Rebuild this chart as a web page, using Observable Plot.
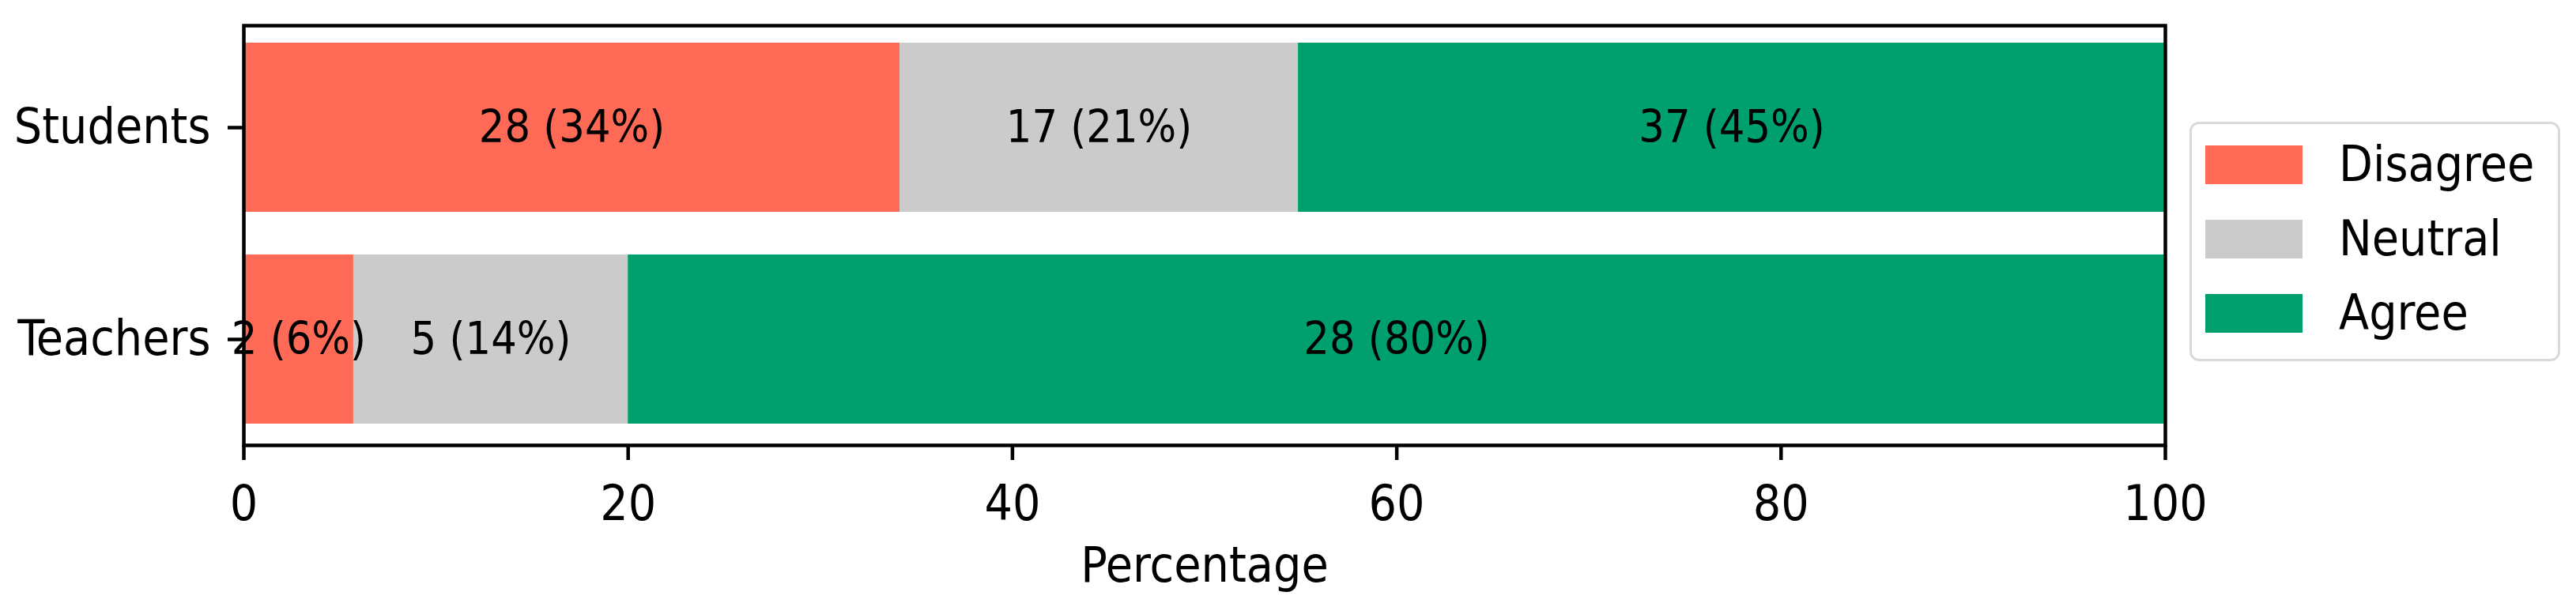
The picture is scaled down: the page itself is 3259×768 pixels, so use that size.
<!DOCTYPE html>
<html>
<head>
<meta charset="utf-8">
<script src="https://cdn.jsdelivr.net/npm/d3@7"></script>
<script src="https://cdn.jsdelivr.net/npm/@observablehq/plot@0.6"></script>
<style>
  body { margin: 0; background: #fff; font-family: "DejaVu Sans Condensed", "DejaVu Sans", sans-serif; font-stretch: condensed; }
  #wrap { position: relative; width: 3259px; height: 768px; }
  #wrap svg text { font-stretch: condensed; }
  #legend { position: absolute; left: 2770px; top: 154px; width: 469px; height: 303px;
            box-sizing: border-box; border: 3px solid #d9d9d9; border-radius: 12px; background: #fff; }
  .lrow { position: absolute; left: 0; height: 70px; width: 100%; }
  .sw { position: absolute; left: 17px; top: 10.5px; width: 123px; height: 49px; }
  .lt { position: absolute; left: 186px; top: 0; line-height: 70px; font-size: 62px; color: #000;
        font-family: "DejaVu Sans Condensed", "DejaVu Sans", sans-serif; font-stretch: condensed; white-space: nowrap; }
</style>
</head>
<body>
<div id="wrap"></div>
<script>
// ---- data ----
const groups = ["Students", "Teachers"];
const responses = ["Disagree", "Neutral", "Agree"];
const colors = ["#FF6A57", "#CBCBCB", "#00A06E"];
const studentCounts = [28, 17, 37];
const teacherCounts = [2, 5, 28];
const xTicks = [0, 20, 40, 60, 80, 100];
const xLabel = "Percentage";

// ---- build table ----
const countsByGroup = { Students: studentCounts, Teachers: teacherCounts };
const rows = [];
for (const g of groups) {
  const counts = countsByGroup[g];
  const total = d3.sum(counts);
  let acc = 0;
  counts.forEach((c, i) => {
    const pct = c / total * 100;
    rows.push({ group: g, response: responses[i], count: c, pct, x1: acc, x2: acc + pct });
    acc += pct;
  });
}

const font = "DejaVu Sans Condensed, DejaVu Sans, sans-serif";

const chart = Plot.plot({
  width: 3259,
  height: 768,
  marginLeft: 308,
  marginRight: 520,
  marginTop: 32,
  marginBottom: 205,
  style: { fontFamily: font, fontSize: "62px", color: "#000", background: "#fff" },
  x: { domain: [0, 100] },
  y: { domain: groups, paddingInner: 0.2, paddingOuter: 0.09, align: 0.45 },
  color: { domain: responses, range: colors },
  marks: [
    Plot.barX(rows, { x1: "x1", x2: "x2", y: "group", fill: "response" }),
    Plot.text(rows, {
      x: d => (d.x1 + d.x2) / 2, y: "group",
      text: d => `${d.count} (${Math.round(d.pct)}%)`,
      fontSize: 57, fill: "#000"
    }),
    Plot.frame({ stroke: "#000", strokeWidth: 4.5 }),
    Plot.axisX({ ticks: xTicks, tickFormat: d => String(d), tickSize: 19, tickPadding: 31,
                 strokeWidth: 4.5, fontSize: 62, label: null }),
    Plot.axisY({ tickSize: 20, tickPadding: 22, strokeWidth: 4.5, fontSize: 62, label: null }),
    Plot.text([xLabel], { frameAnchor: "bottom", lineAnchor: "middle", dy: 153, fontSize: 62, fill: "#000" })
  ]
});

const wrap = document.getElementById("wrap");
wrap.appendChild(chart);

// ---- legend ----
const legend = document.createElement("div");
legend.id = "legend";
const centers = [51, 145, 239];
responses.forEach((r, i) => {
  const row = document.createElement("div");
  row.className = "lrow";
  row.style.top = (centers[i] - 35) + "px";
  const sw = document.createElement("div");
  sw.className = "sw";
  sw.style.background = colors[i];
  const t = document.createElement("div");
  t.className = "lt";
  t.textContent = r;
  row.appendChild(sw);
  row.appendChild(t);
  legend.appendChild(row);
});
wrap.appendChild(legend);
</script>
</body>
</html>
